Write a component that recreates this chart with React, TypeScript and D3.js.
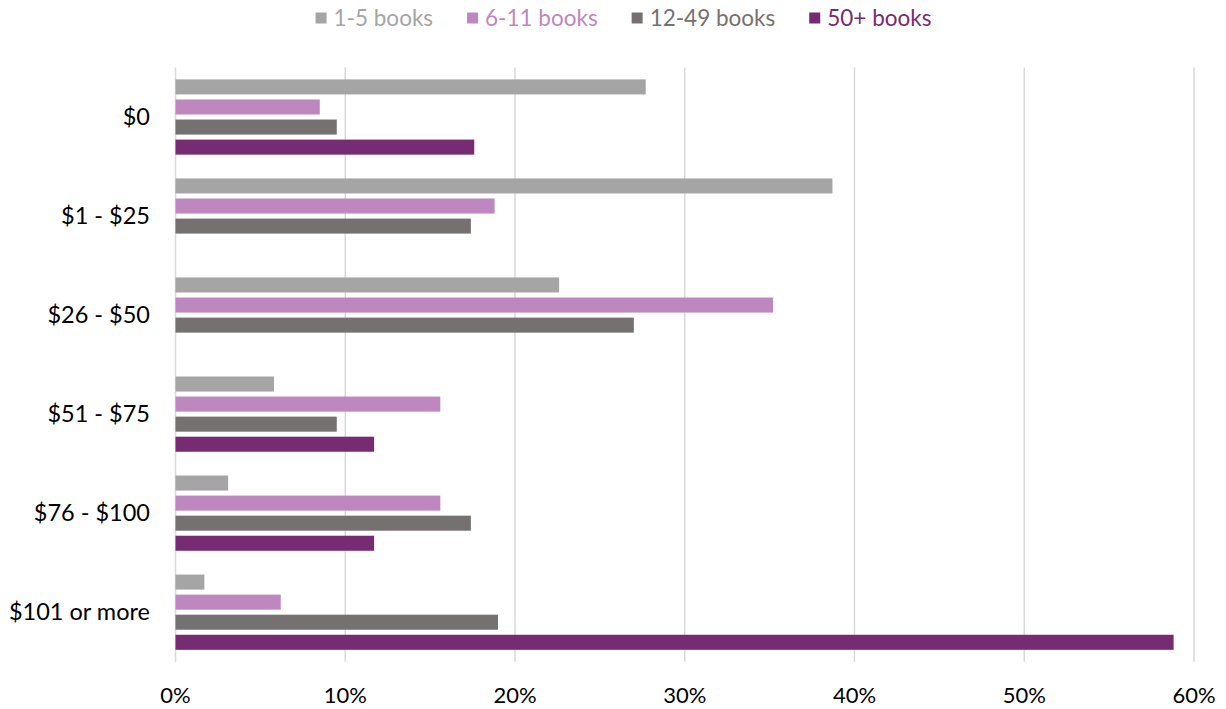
import React, { useEffect, useRef } from "react";
import * as d3 from "d3";

const categories = ["$0", "$1 - $25", "$26 - $50", "$51 - $75", "$76 - $100", "$101 or more"];
const seriesNames = ["1-5 books", "6-11 books", "12-49 books", "50+ books"];
const books1to5 = [27.7, 38.7, 22.6, 5.8, 3.1, 1.7];
const books6to11 = [8.5, 18.8, 35.2, 15.6, 15.6, 6.2];
const books12to49 = [9.5, 17.4, 27.0, 9.5, 17.4, 19.0];
const books50plus = [17.6, 0, 0, 11.7, 11.7, 58.8];
const xTicks = [0, 10, 20, 30, 40, 50, 60];
const colors = ["#A5A5A5", "#BF87BF", "#767171", "#772B72"];

const W = 1226;
const H = 709;
const FONT = "Lato, 'Open Sans', sans-serif";

export default function App() {
  const ref = useRef<SVGSVGElement>(null);

  useEffect(() => {
    const svg = d3.select(ref.current);
    svg.selectAll("*").remove();

    const seriesValues = [books1to5, books6to11, books12to49, books50plus];
    const rows = seriesNames.map((name, si) =>
      categories.map((c, ci) => ({ series: name, cat: c, value: seriesValues[si][ci], color: colors[si] }))
    );

    const x = d3.scaleLinear().domain([0, 60]).range([175.5, 1194]);
    const y = d3.scaleBand<string>().domain(categories).range([67.5, 661.7]).paddingInner(0.24).paddingOuter(0.12);
    const ys = d3.scaleBand<string>().domain(seriesNames).range([0, y.bandwidth()]).paddingInner(0.25);

    // gridlines
    svg
      .append("g")
      .selectAll("line")
      .data(xTicks)
      .join("line")
      .attr("x1", (d) => x(d))
      .attr("x2", (d) => x(d))
      .attr("y1", 67.5)
      .attr("y2", 661.7)
      .attr("stroke", "#D9D9D9")
      .attr("stroke-width", 1.5);

    // bars
    const g = svg.append("g");
    rows.forEach((r) => {
      g.append("g")
        .selectAll("rect")
        .data(r)
        .join("rect")
        .attr("x", x(0))
        .attr("y", (d) => (y(d.cat) as number) + (ys(d.series) as number))
        .attr("width", (d) => x(d.value) - x(0))
        .attr("height", ys.bandwidth())
        .attr("fill", (d) => d.color);
    });

    // category labels
    svg
      .append("g")
      .selectAll("text")
      .data(categories)
      .join("text")
      .attr("x", 150)
      .attr("y", (d) => (y(d) as number) + y.bandwidth() / 2)
      .attr("dy", "0.35em")
      .attr("text-anchor", "end")
      .attr("font-family", FONT)
      .attr("font-size", 23.5)
      .attr("fill", "#000")
      .text((d) => d);

    // x tick labels
    svg
      .append("g")
      .selectAll("text")
      .data(xTicks)
      .join("text")
      .attr("x", (d) => x(d))
      .attr("y", 695)
      .attr("dy", "0.35em")
      .attr("text-anchor", "middle")
      .attr("font-family", FONT)
      .attr("font-size", 22)
      .attr("fill", "#000")
      .text((d) => d3.format("d")(d) + "%");

    // legend
    const lg = svg.append("g");
    const items = lg
      .selectAll("g")
      .data(seriesNames)
      .join("g");
    items
      .append("rect")
      .attr("x", 0)
      .attr("y", 18 - 5.5)
      .attr("width", 11)
      .attr("height", 11)
      .attr("fill", (_, i) => colors[i]);
    items
      .append("text")
      .attr("x", 18)
      .attr("y", 18)
      .attr("dy", "0.35em")
      .attr("font-family", FONT)
      .attr("font-size", 22.5)
      .attr("fill", (_, i) => colors[i])
      .text((d) => d);
    const widths: number[] = [];
    items.each(function () {
      const t = d3.select(this).select("text").node() as SVGTextElement;
      widths.push(18 + t.getComputedTextLength());
    });
    const gap = 34;
    const total = d3.sum(widths) + gap * (widths.length - 1);
    let cx = 623.5 - total / 2;
    items.each(function (_, i) {
      d3.select(this).attr("transform", `translate(${cx},0)`);
      cx += widths[i] + gap;
    });
  }, []);

  return (
    <svg
      ref={ref}
      width={W}
      height={H}
      style={{ position: "absolute", left: 0, top: 0, background: "#fff" }}
    />
  );
}
